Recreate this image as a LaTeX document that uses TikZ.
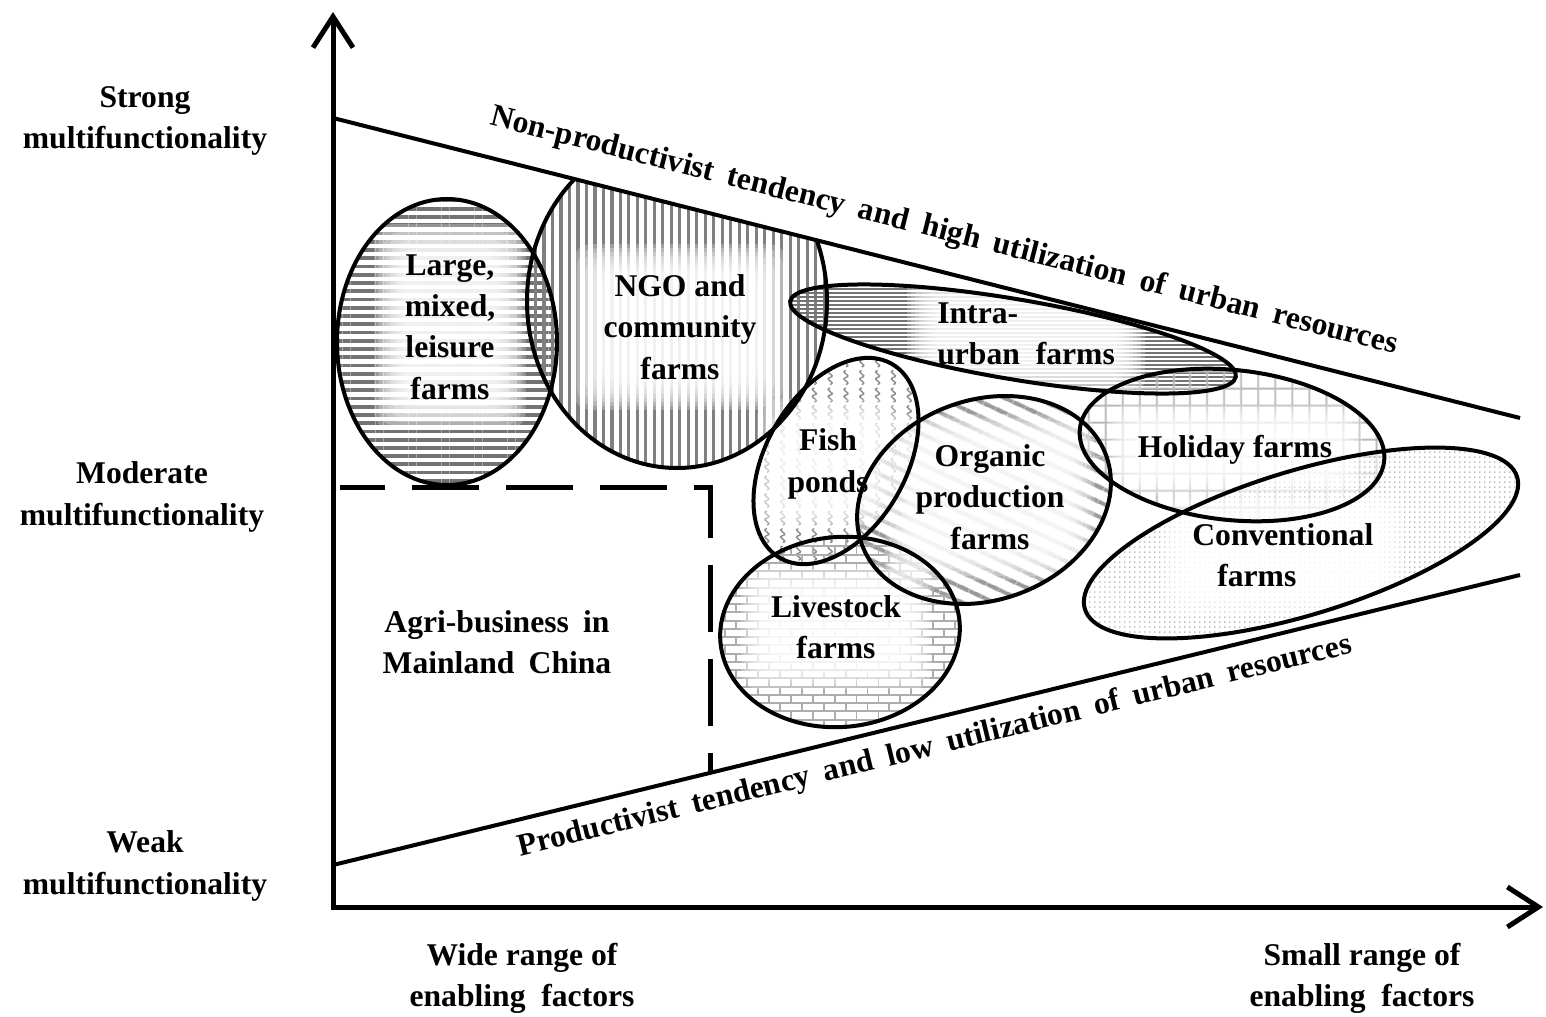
\documentclass[tikz,border=0pt]{standalone}
\usepackage{fontspec}
\setmainfont{Liberation Serif}
\usetikzlibrary{arrows.meta,patterns.meta,calc}

\pgfdeclarelayer{fills}
\pgfdeclarelayer{glow}
\pgfsetlayers{fills,glow,main}

% light brick wall
\pgfdeclarepattern{name=brickwall, type=uncolored,
  bottom left={\pgfpoint{-1pt}{-1pt}}, top right={\pgfpoint{13.5pt}{10.4pt}},
  tile size={\pgfpoint{12.5pt}{9.4pt}},
  code={\pgfsetlinewidth{1.1pt}
    \pgfpathmoveto{\pgfpoint{-1pt}{0pt}}\pgfpathlineto{\pgfpoint{13.5pt}{0pt}}
    \pgfpathmoveto{\pgfpoint{-1pt}{4.7pt}}\pgfpathlineto{\pgfpoint{13.5pt}{4.7pt}}
    \pgfpathmoveto{\pgfpoint{0pt}{0pt}}\pgfpathlineto{\pgfpoint{0pt}{4.7pt}}
    \pgfpathmoveto{\pgfpoint{6.25pt}{4.7pt}}\pgfpathlineto{\pgfpoint{6.25pt}{9.4pt}}
    \pgfusepath{stroke}}}

% columns of short waves
\pgfdeclarepattern{name=wavecols, type=uncolored,
  bottom left={\pgfpoint{-1pt}{-1pt}}, top right={\pgfpoint{10pt}{11pt}},
  tile size={\pgfpoint{9pt}{10pt}},
  code={\pgfsetlinewidth{0.8pt}
    \pgfpathmoveto{\pgfpoint{4.5pt}{0pt}}
    \pgfpathcurveto{\pgfpoint{8.5pt}{1.2pt}}{\pgfpoint{0.5pt}{2.8pt}}{\pgfpoint{4.5pt}{4pt}}
    \pgfpathcurveto{\pgfpoint{8.5pt}{5.2pt}}{\pgfpoint{0.5pt}{6.8pt}}{\pgfpoint{4.5pt}{8pt}}
    \pgfusepath{stroke}}}

\newcommand\lbfont{\bfseries\fontsize{18}{23.5}\selectfont}
\newcommand\widesp{\spaceskip=0.45em\relax}

% soft white glow under a label
\newcommand\glowbehind[1]{%
  \begin{pgfonlayer}{glow}
    \foreach \m in {2,6,10,14,18,22,26,30}
      \fill[white, fill opacity=0.25, rounded corners=0.35cm]
        ($(#1.south west)+(-\m,-\m)$) rectangle ($(#1.north east)+(\m,\m)$);
  \end{pgfonlayer}}

\begin{document}
\begin{tikzpicture}[x=0.02cm, y=0.02cm,
  rim/.style={line width=0.08cm},
  bound/.style={line width=0.08cm},
  lbl/.style={font=\lbfont, align=center, inner sep=0pt},
  tilt/.style={font=\lbfont, inner sep=0pt},
  axis/.style={line width=0.1cm, line join=miter,
    arrows={Straight Barb[length=0.62cm,width=0.8cm]-Straight Barb[length=0.62cm,width=0.8cm]}},
  agribox/.style={line width=0.1cm, dash pattern=on 1.34cm off 0.54cm, dash phase=0.44cm}]

\useasboundingbox (0,0) rectangle (1546,-1017);

% ---- axes and tendency boundaries (corner points)
\coordinate (O) at (333,-907);
\coordinate (ytop) at (333,-12);
\coordinate (xend) at (1543,-907);
\coordinate (hiL) at (333,-118);
\coordinate (hiR) at (1520,-418);
\coordinate (loL) at (333,-865);
\coordinate (loR) at (1520,-575);

% ---- patterned farm areas
\begin{pgfonlayer}{fills}
  \fill[pattern={Lines[angle=0,distance=0.165cm,line width=0.075cm]}, pattern color=black!55]
    (447,-342) ellipse [x radius=110, y radius=143];
  \begin{scope}
    \clip (hiL) -- (hiR) -- (1520,-1017) -- (333,-1017) -- cycle;
    \fill[pattern={Lines[angle=90,distance=0.17cm,line width=0.065cm]}, pattern color=black!50]
      (677,-301) ellipse [x radius=150, y radius=167];
  \end{scope}
  \fill[pattern={Lines[angle=0,distance=0.08cm,line width=0.035cm]}, pattern color=black!55]
    (1013,-339) ellipse [x radius=226, y radius=40, rotate=-9.6];
  \fill[pattern=wavecols, pattern color=black!45]
    (836,-461) ellipse [x radius=112, y radius=70, rotate=60];
  \fill[pattern={Lines[angle=-25,distance=0.26cm,line width=0.09cm]}, pattern color=black!40]
    (984,-500) ellipse [x radius=130, y radius=100, rotate=20];
  \fill[pattern={Lines[angle=0,distance=0.34cm,line width=0.04cm]}, pattern color=black!28]
    (1232,-445) ellipse [x radius=153, y radius=75, rotate=-6];
  \fill[pattern={Lines[angle=90,distance=0.34cm,line width=0.04cm]}, pattern color=black!28]
    (1232,-445) ellipse [x radius=153, y radius=75, rotate=-6];
  \fill[white, fill opacity=0.55]
    (1301,-543) ellipse [x radius=226, y radius=72, rotate=17];
  \fill[pattern={Dots[distance=0.1cm,radius=0.016cm]}, pattern color=black!38]
    (1301,-543) ellipse [x radius=226, y radius=72, rotate=17];
  \fill[pattern=brickwall, pattern color=black!32]
    (840,-632) ellipse [x radius=120, y radius=95, rotate=5];
\end{pgfonlayer}

% ---- outlines of the farm areas
\begin{scope}
  \clip (hiL) -- (hiR) -- (1520,-1017) -- (333,-1017) -- cycle;
  \draw[rim] (677,-301) ellipse [x radius=150, y radius=167];
\end{scope}
\foreach \cx/\cy/\rx/\ry/\rot in {447/342/110/143/0,
    1013/339/226/40/-9.6, 836/461/112/70/60, 984/500/130/100/20,
    1232/445/153/75/-6, 1301/543/226/72/17, 840/632/120/95/5}
  \draw[rim] (\cx,-\cy) ellipse [x radius=\rx, y radius=\ry, rotate=\rot];

% ---- axes
\draw[axis] (ytop) -- (O) -- (xend);

% ---- tendency boundaries
\draw[bound] (hiL) -- (hiR);
\draw[bound] (loL) -- (loR);

% ---- agri-business corner
\coordinate (a1) at (340,-487);
\coordinate (a2) at (710,-487);
\coordinate (a3) at (710,-772);
\draw[agribox] (a1) -- (a2) -- (a3);

% ---- labels
\node[lbl] (large) at (450,-327) {Large,\\mixed,\\leisure\\farms};
\node[lbl] (ngo) at (680,-327) {NGO and\\community\\farms};
\node[lbl, align=left, anchor=west] (intra) at (937,-334) {Intra-\\urban\enspace farms};
\node[lbl] (fish) at (828,-464) {Fish\\ponds};
\node[lbl] (organic) at (990,-497) {Organic\\production\\farms};
\node[lbl] (holiday) at (1235,-450) {Holiday farms};
\node[lbl, align=left, anchor=west] (conv) at (1192,-555) {Conventional\\\hspace*{0.5cm}farms};
\node[lbl] (live) at (836,-627) {Livestock\\farms};
\node[lbl] (agri) at (497,-642) {\widesp Agri-business in\\\widesp Mainland China};
\foreach \n in {large,ngo,intra,fish,organic,holiday,conv,live} {\glowbehind{\n}}

\node[lbl] (strong) at (145,-121) {Strong\\multifunctionality};
\node[lbl] (moderate) at (142,-497) {Moderate\\multifunctionality};
\node[lbl] (weak) at (145,-866) {Weak\\multifunctionality};
\node[lbl] (wide) at (522,-978) {Wide range of\\enabling\enspace factors};
\node[lbl] (small) at (1362,-978) {Small range of\\enabling\enspace factors};

\node[tilt, rotate=-14.18] (nonprod) at (944,-232)
  {\widesp Non-productivist tendency and high utilization of urban resources};
\node[tilt, rotate=13.73] (prod) at (935,-747)
  {\widesp Productivist tendency and low utilization of urban resources};
\end{tikzpicture}
\end{document}
